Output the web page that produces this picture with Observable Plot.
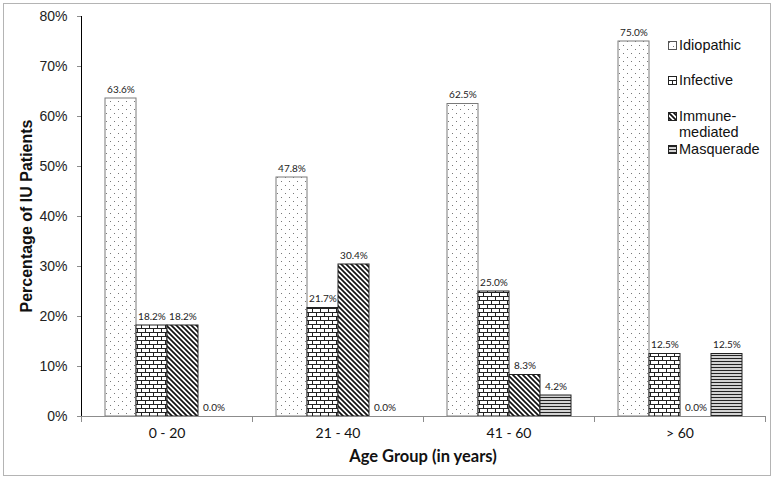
<!DOCTYPE html>
<html><head><meta charset="utf-8">
<script src="https://cdn.jsdelivr.net/npm/d3@7"></script>
<script src="https://cdn.jsdelivr.net/npm/@observablehq/plot@0.6"></script>
<style>
body{margin:0;background:#fff}
#wrap{position:relative;width:780px;height:481px;overflow:hidden}
#border{position:absolute;left:3px;top:3px;width:766px;height:471px;border:1px solid #b4b4b4;pointer-events:none}
#chart{position:absolute;left:0;top:0}
#chart svg{overflow:visible}
[aria-label^="y-axis"] text{fill:#222}
[aria-label^="fx-axis"] text{font-family:Lato,sans-serif;font-size:14px;fill:#111}
[aria-label^="y-axis"] path,[aria-label^="y-axis"] line{stroke:#8c8c8c}
.leg{position:absolute;font-family:"Liberation Sans",Arial,sans-serif;font-size:14.5px;color:#111;line-height:16px}
.leg svg{position:absolute;left:-11px;top:4px}
</style></head><body>
<svg width="0" height="0" style="position:absolute">
<defs>
<pattern id="p-dots" width="8" height="8" patternUnits="userSpaceOnUse">
<rect width="8" height="8" fill="#fff"/>
<rect x="1" y="1" width="1" height="1" fill="#777"/><rect x="5" y="5" width="1" height="1" fill="#777"/>
</pattern>
<pattern id="p-brick" width="8" height="8" patternUnits="userSpaceOnUse">
<rect width="8" height="8" fill="#fff"/>
<path d="M0,0.5H8M0,4.5H8M0.5,0.5V4.5M4.5,4.5V8" stroke="#222" stroke-width="1" fill="none"/>
</pattern>
<pattern id="p-diag" width="5" height="5" patternUnits="userSpaceOnUse">
<rect width="5" height="5" fill="#fff"/>
<path d="M-1,-1L6,6M-1,4L1,6M4,-1L6,1" stroke="#111" stroke-width="1.7" fill="none"/>
</pattern>
<pattern id="p-hlines" width="4" height="3" patternUnits="userSpaceOnUse">
<rect width="4" height="3" fill="#fff"/>
<path d="M0,1.5H4" stroke="#222" stroke-width="1.4" fill="none"/>
</pattern>
</defs></svg>
<div id="wrap"><div id="chart"></div><div id="border"></div><div id="legend"></div></div>
<script>
const groups = ["0 - 20", "21 - 40", "41 - 60", "> 60"];
const series = ["Idiopathic", "Infective", "Immune-mediated", "Masquerade"];
const idiopathic = [63.6, 47.8, 62.5, 75.0];
const infective = [18.2, 21.7, 25.0, 12.5];
const immuneMediated = [18.2, 30.4, 8.3, 0.0];
const masquerade = [0.0, 0.0, 4.2, 12.5];
const yTicks = [0, 10, 20, 30, 40, 50, 60, 70, 80];

const seriesValues = [idiopathic, infective, immuneMediated, masquerade];
const patterns = ["url(#p-dots)", "url(#p-brick)", "url(#p-diag)", "url(#p-hlines)"];

const data = [];
groups.forEach((g, i) => seriesValues.forEach((arr, j) => data.push({group: g, series: series[j], value: arr[i]})));

const H = 481, mt = 16, mb = 65;
const plotH = H - mt - mb;

const chart = Plot.plot({
  width: 780, height: H,
  marginLeft: 80, marginRight: 14, marginTop: mt, marginBottom: mb,
  style: {fontFamily: "'Liberation Sans', Arial, sans-serif", fontSize: "14px", background: "transparent"},
  fx: {domain: groups, padding: 0, label: null, tickSize: 0, tickPadding: 12},
  x: {domain: series, paddingInner: 0, paddingOuter: 0.758, axis: null},
  y: {domain: [0, 80], ticks: yTicks, tickFormat: d => d + "%", tickSize: 4, tickPadding: 10, label: null, line: true},
  color: {type: "ordinal", domain: series, range: patterns},
  marks: [
    Plot.barY(data.filter(d => d.value > 0 && d.series === "Idiopathic"), {fx: "group", x: "series", y: "value", fill: "series", stroke: "#7a7a7a", strokeWidth: 1}),
    Plot.barY(data.filter(d => d.value > 0 && d.series !== "Idiopathic"), {fx: "group", x: "series", y: "value", fill: "series", stroke: "#222", strokeWidth: 1}),
    Plot.ruleY([0], {stroke: "#8c8c8c"}),
    Plot.frame({anchor: "left", stroke: "#8c8c8c", insetTop: plotH, insetBottom: -5}),
    Plot.frame({anchor: "right", stroke: "#8c8c8c", insetTop: plotH, insetBottom: -5}),
    Plot.text(data, {fx: "group", x: "series", y: "value", text: d => d.value.toFixed(1) + "%", dy: -9, fontFamily: "Lato, sans-serif", fontSize: 10, fill: "#222"})
  ]
});
document.getElementById("chart").appendChild(chart);

const svg = d3.select(chart);
svg.append("text")
  .attr("transform", `translate(28,${mt + plotH / 2}) rotate(-90)`)
  .attr("text-anchor", "middle").attr("dominant-baseline", "middle")
  .style("font-family", "'Liberation Sans', Arial, sans-serif").style("font-weight", "bold").style("font-size", "16px").attr("fill", "#111")
  .text("Percentage of IU Patients");
svg.append("text")
  .attr("x", (80 + 780 - 14) / 2).attr("y", 458)
  .attr("text-anchor", "middle").attr("dominant-baseline", "middle")
  .style("font-family", "Lato, sans-serif").style("font-weight", "bold").style("font-size", "16.5px").attr("fill", "#111")
  .text("Age Group (in years)");

// legend
const legendItems = [
  {label: "Idiopathic", top: 37, pat: patterns[0], stroke: "#555"},
  {label: "Infective", top: 72, pat: patterns[1], stroke: "#222"},
  {label: "Immune-<br>mediated", top: 108, pat: patterns[2], stroke: "#222"},
  {label: "Masquerade", top: 141, pat: patterns[3], stroke: "#222"}
];
const leg = document.getElementById("legend");
legendItems.forEach(it => {
  const d = document.createElement("div");
  d.className = "leg";
  d.style.left = "679px";
  d.style.top = it.top + "px";
  d.innerHTML = `<svg width="9" height="9"><rect x="0.5" y="0.5" width="8" height="8" fill="${it.pat}" stroke="${it.stroke}"/></svg>${it.label}`;
  leg.appendChild(d);
});
</script>
</body></html>
